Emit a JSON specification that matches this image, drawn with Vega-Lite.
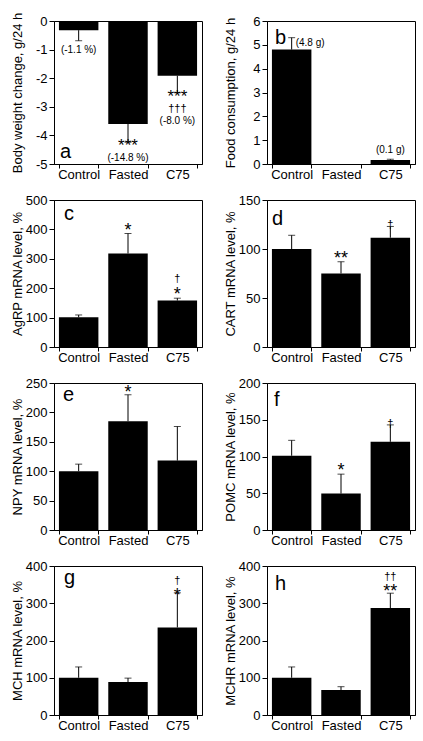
{
 "$schema": "https://vega.github.io/schema/vega-lite/v6.json",
 "padding": {"left": 10, "top": 11, "right": 5, "bottom": 5},
 "background": "white",
 "config": {
  "font": "Liberation Sans",
  "view": {"stroke": "black", "strokeWidth": 1},
  "axis": {"grid": false, "domainColor": "black", "domainWidth": 1, "tickColor": "black", "tickSize": 5, "labelColor": "black", "labelFontSize": 13, "labelPadding": 2, "labelOverlap": false, "labelFlush": false, "titleColor": "black", "titleFontSize": 13, "titleFontWeight": "normal"},
  "axisX": {"labelAngle": 0, "tickBand": "extent", "tickSize": 4, "labelPadding": 0},
  "axisY": {"minExtent": 28, "maxExtent": 28, "titlePadding": 2, "labelOverlap": false, "tickCount": 10},
  "bar": {"color": "black"},
  "rule": {"color": "black"},
  "tick": {"color": "black"},
  "text": {"color": "black"},
  "scale": {"bandPaddingInner": 0.2, "bandPaddingOuter": 0.1}
 },
 "datasets": {
  "a": [
   {"g": "Control", "v": -0.32, "e": -0.69, "st": "", "dg": "", "p": "(-1.1 %)"},
   {"g": "Fasted", "v": -3.6, "e": -4.24, "st": "***", "dg": "", "p": "(-14.8 %)"},
   {"g": "C75", "v": -1.91, "e": -2.51, "st": "***", "dg": "†††", "p": "(-8.0 %)"}
  ],
  "b": [
   {"g": "Control", "v": 4.8, "e": 5.3, "p": "(4.8 g)"},
   {"g": "Fasted", "v": 0, "e": null, "p": ""},
   {"g": "C75", "v": 0.17, "e": 0.2, "p": "(0.1 g)"}
  ],
  "c": [
   {"g": "Control", "v": 101, "e": 109, "st": "", "dg": ""},
   {"g": "Fasted", "v": 318, "e": 386, "st": "*", "dg": ""},
   {"g": "C75", "v": 158, "e": 166, "st": "*", "dg": "†"}
  ],
  "d": [
   {"g": "Control", "v": 100, "e": 114, "st": "", "dg": ""},
   {"g": "Fasted", "v": 75, "e": 87, "st": "**", "dg": ""},
   {"g": "C75", "v": 111.5, "e": 123, "st": "", "dg": "†"}
  ],
  "e": [
   {"g": "Control", "v": 100, "e": 112, "st": "", "dg": ""},
   {"g": "Fasted", "v": 185, "e": 230, "st": "*", "dg": ""},
   {"g": "C75", "v": 118, "e": 176, "st": "", "dg": ""}
  ],
  "f": [
   {"g": "Control", "v": 101, "e": 122, "st": "", "dg": ""},
   {"g": "Fasted", "v": 49.5, "e": 76, "st": "*", "dg": ""},
   {"g": "C75", "v": 120, "e": 143, "st": "", "dg": "†"}
  ],
  "g": [
   {"g": "Control", "v": 100, "e": 129, "st": "", "dg": ""},
   {"g": "Fasted", "v": 88.5, "e": 99, "st": "", "dg": ""},
   {"g": "C75", "v": 235, "e": 328, "st": "*", "dg": "†"}
  ],
  "h": [
   {"g": "Control", "v": 100, "e": 129, "st": "", "dg": ""},
   {"g": "Fasted", "v": 67, "e": 76, "st": "", "dg": ""},
   {"g": "C75", "v": 287, "e": 327, "st": "**", "dg": "††"}
  ]
 },
 "spacing": 11,
 "vconcat": [
  {
   "spacing": 20,
   "hconcat": [
    {
     "width": 148, "height": 143,
     "data": {"name": "a"},
     "encoding": {"x": {"field": "g", "type": "nominal", "title": null, "scale": {"domain": ["Control", "Fasted", "C75"]}}},
     "layer": [
      {"mark": "bar", "encoding": {"y": {"field": "v", "type": "quantitative", "scale": {"domain": [-5, 0]}, "axis": {"title": "Body weight change, g/24 h", "values": [0, -1, -2, -3, -4, -5], "tickCount": 10, "labelExpr": "'' + datum.value"}}}},
      {"mark": {"type": "rule"}, "encoding": {"y": {"field": "v", "type": "quantitative", "scale": {"domain": [-5, 0]}}, "y2": {"field": "e"}}},
      {"mark": {"type": "tick", "size": 7, "thickness": 1}, "encoding": {"y": {"field": "e", "type": "quantitative", "scale": {"domain": [-5, 0]}}}},
      {"transform": [{"filter": "datum.st != ''"}], "mark": {"type": "text", "fontSize": 17, "baseline": "alphabetic", "dy": 9}, "encoding": {"y": {"field": "e", "type": "quantitative", "scale": {"domain": [-5, 0]}}, "text": {"field": "st"}}},
      {"transform": [{"filter": "datum.dg != ''"}], "mark": {"type": "text", "fontSize": 11, "baseline": "alphabetic", "dy": 19}, "encoding": {"y": {"field": "e", "type": "quantitative", "scale": {"domain": [-5, 0]}}, "text": {"field": "dg"}}},
      {"transform": [{"filter": "datum.g == 'Control'"}], "mark": {"type": "text", "fontSize": 10, "baseline": "middle", "dy": 9}, "encoding": {"y": {"field": "e", "type": "quantitative", "scale": {"domain": [-5, 0]}}, "text": {"field": "p"}}},
      {"transform": [{"filter": "datum.g == 'Fasted'"}], "mark": {"type": "text", "fontSize": 10, "baseline": "middle", "dy": 16}, "encoding": {"y": {"field": "e", "type": "quantitative", "scale": {"domain": [-5, 0]}}, "text": {"field": "p"}}},
      {"transform": [{"filter": "datum.g == 'C75'"}], "mark": {"type": "text", "fontSize": 10, "baseline": "middle", "dy": 28}, "encoding": {"y": {"field": "e", "type": "quantitative", "scale": {"domain": [-5, 0]}}, "text": {"field": "p"}}},
      {"transform": [{"filter": "datum.g == 'Control'"}], "mark": {"type": "text", "fontSize": 20, "align": "left", "baseline": "alphabetic", "dx": 1, "dy": -6}, "encoding": {"x": {"field": "g", "type": "nominal", "bandPosition": 0, "scale": {"domain": ["Control", "Fasted", "C75"]}}, "y": {"datum": -5, "type": "quantitative", "scale": {"domain": [-5, 0]}}, "text": {"value": "a"}}}
     ]
    },
    {
     "width": 148, "height": 143,
     "data": {"name": "b"},
     "encoding": {"x": {"field": "g", "type": "nominal", "title": null, "scale": {"domain": ["Control", "Fasted", "C75"]}}},
     "layer": [
      {"mark": "bar", "encoding": {"y": {"field": "v", "type": "quantitative", "scale": {"domain": [0, 6]}, "axis": {"title": "Food consumption, g/24 h", "values": [0, 1, 2, 3, 4, 5, 6], "tickCount": 10, "labelExpr": "'' + datum.value"}}}},
      {"transform": [{"filter": "datum.e != null"}], "mark": {"type": "rule"}, "encoding": {"y": {"field": "v", "type": "quantitative", "scale": {"domain": [0, 6]}}, "y2": {"field": "e"}}},
      {"transform": [{"filter": "datum.e != null"}], "mark": {"type": "tick", "size": 7, "thickness": 1}, "encoding": {"y": {"field": "e", "type": "quantitative", "scale": {"domain": [0, 6]}}}},
      {"transform": [{"filter": "datum.g == 'Control'"}], "mark": {"type": "text", "fontSize": 10, "align": "left", "baseline": "middle", "dx": 4, "dy": 5}, "encoding": {"y": {"field": "e", "type": "quantitative", "scale": {"domain": [0, 6]}}, "text": {"field": "p"}}},
      {"transform": [{"filter": "datum.g == 'C75'"}], "mark": {"type": "text", "fontSize": 10, "baseline": "middle", "dy": -9}, "encoding": {"y": {"field": "e", "type": "quantitative", "scale": {"domain": [0, 6]}}, "text": {"field": "p"}}},
      {"transform": [{"filter": "datum.g == 'Control'"}], "mark": {"type": "text", "fontSize": 20, "align": "left", "baseline": "alphabetic", "dx": 3, "dy": 23}, "encoding": {"x": {"field": "g", "type": "nominal", "bandPosition": 0, "scale": {"domain": ["Control", "Fasted", "C75"]}}, "y": {"datum": 6, "type": "quantitative", "scale": {"domain": [0, 6]}}, "text": {"value": "b"}}}
     ]
    }
   ]
  },
  {
   "spacing": 20,
   "hconcat": [
    {
     "width": 148, "height": 147,
     "data": {"name": "c"},
     "encoding": {"x": {"field": "g", "type": "nominal", "title": null, "scale": {"domain": ["Control", "Fasted", "C75"]}}},
     "layer": [
      {"mark": "bar", "encoding": {"y": {"field": "v", "type": "quantitative", "scale": {"domain": [0, 500]}, "axis": {"title": "AgRP mRNA level, %", "values": [0, 100, 200, 300, 400, 500], "tickCount": 10, "labelExpr": "'' + datum.value"}}}},
      {"mark": {"type": "rule"}, "encoding": {"y": {"field": "v", "type": "quantitative", "scale": {"domain": [0, 500]}}, "y2": {"field": "e"}}},
      {"mark": {"type": "tick", "size": 7, "thickness": 1}, "encoding": {"y": {"field": "e", "type": "quantitative", "scale": {"domain": [0, 500]}}}},
      {"transform": [{"filter": "datum.st != ''"}], "mark": {"type": "text", "fontSize": 18, "baseline": "alphabetic", "dy": 2}, "encoding": {"y": {"field": "e", "type": "quantitative", "scale": {"domain": [0, 500]}}, "text": {"field": "st"}}},
      {"transform": [{"filter": "datum.dg != '' && datum.st != ''"}], "mark": {"type": "text", "fontSize": 11, "baseline": "alphabetic", "dy": -16}, "encoding": {"y": {"field": "e", "type": "quantitative", "scale": {"domain": [0, 500]}}, "text": {"field": "dg"}}},
      {"transform": [{"filter": "datum.g == 'Control'"}], "mark": {"type": "text", "fontSize": 20, "align": "left", "baseline": "alphabetic", "dx": 5, "dy": 20}, "encoding": {"x": {"field": "g", "type": "nominal", "bandPosition": 0, "scale": {"domain": ["Control", "Fasted", "C75"]}}, "y": {"datum": 500, "type": "quantitative", "scale": {"domain": [0, 500]}}, "text": {"value": "c"}}}
     ]
    },
    {
     "width": 148, "height": 147,
     "data": {"name": "d"},
     "encoding": {"x": {"field": "g", "type": "nominal", "title": null, "scale": {"domain": ["Control", "Fasted", "C75"]}}},
     "layer": [
      {"mark": "bar", "encoding": {"y": {"field": "v", "type": "quantitative", "scale": {"domain": [0, 150]}, "axis": {"title": "CART mRNA level, %", "values": [0, 50, 100, 150], "tickCount": 10, "labelExpr": "'' + datum.value"}}}},
      {"mark": {"type": "rule"}, "encoding": {"y": {"field": "v", "type": "quantitative", "scale": {"domain": [0, 150]}}, "y2": {"field": "e"}}},
      {"mark": {"type": "tick", "size": 7, "thickness": 1}, "encoding": {"y": {"field": "e", "type": "quantitative", "scale": {"domain": [0, 150]}}}},
      {"transform": [{"filter": "datum.st != ''"}], "mark": {"type": "text", "fontSize": 18, "baseline": "alphabetic", "dy": 2}, "encoding": {"y": {"field": "e", "type": "quantitative", "scale": {"domain": [0, 150]}}, "text": {"field": "st"}}},
      {"transform": [{"filter": "datum.dg != '' && datum.st == ''"}], "mark": {"type": "text", "fontSize": 11, "baseline": "alphabetic", "dy": 2}, "encoding": {"y": {"field": "e", "type": "quantitative", "scale": {"domain": [0, 150]}}, "text": {"field": "dg"}}},
      {"transform": [{"filter": "datum.g == 'Control'"}], "mark": {"type": "text", "fontSize": 20, "align": "left", "baseline": "alphabetic", "dx": 0, "dy": 25}, "encoding": {"x": {"field": "g", "type": "nominal", "bandPosition": 0, "scale": {"domain": ["Control", "Fasted", "C75"]}}, "y": {"datum": 150, "type": "quantitative", "scale": {"domain": [0, 150]}}, "text": {"value": "d"}}}
     ]
    }
   ]
  },
  {
   "spacing": 20,
   "hconcat": [
    {
     "width": 148, "height": 147,
     "data": {"name": "e"},
     "encoding": {"x": {"field": "g", "type": "nominal", "title": null, "scale": {"domain": ["Control", "Fasted", "C75"]}}},
     "layer": [
      {"mark": "bar", "encoding": {"y": {"field": "v", "type": "quantitative", "scale": {"domain": [0, 250]}, "axis": {"title": "NPY mRNA level, %", "values": [0, 50, 100, 150, 200, 250], "tickCount": 10, "labelExpr": "'' + datum.value"}}}},
      {"mark": {"type": "rule"}, "encoding": {"y": {"field": "v", "type": "quantitative", "scale": {"domain": [0, 250]}}, "y2": {"field": "e"}}},
      {"mark": {"type": "tick", "size": 7, "thickness": 1}, "encoding": {"y": {"field": "e", "type": "quantitative", "scale": {"domain": [0, 250]}}}},
      {"transform": [{"filter": "datum.st != ''"}], "mark": {"type": "text", "fontSize": 18, "baseline": "alphabetic", "dy": 3}, "encoding": {"y": {"field": "e", "type": "quantitative", "scale": {"domain": [0, 250]}}, "text": {"field": "st"}}},
      {"transform": [{"filter": "datum.g == 'Control'"}], "mark": {"type": "text", "fontSize": 20, "align": "left", "baseline": "alphabetic", "dx": 4, "dy": 18}, "encoding": {"x": {"field": "g", "type": "nominal", "bandPosition": 0, "scale": {"domain": ["Control", "Fasted", "C75"]}}, "y": {"datum": 250, "type": "quantitative", "scale": {"domain": [0, 250]}}, "text": {"value": "e"}}}
     ]
    },
    {
     "width": 148, "height": 147,
     "data": {"name": "f"},
     "encoding": {"x": {"field": "g", "type": "nominal", "title": null, "scale": {"domain": ["Control", "Fasted", "C75"]}}},
     "layer": [
      {"mark": "bar", "encoding": {"y": {"field": "v", "type": "quantitative", "scale": {"domain": [0, 200]}, "axis": {"title": "POMC mRNA level, %", "values": [0, 50, 100, 150, 200], "tickCount": 10, "labelExpr": "'' + datum.value"}}}},
      {"mark": {"type": "rule"}, "encoding": {"y": {"field": "v", "type": "quantitative", "scale": {"domain": [0, 200]}}, "y2": {"field": "e"}}},
      {"mark": {"type": "tick", "size": 7, "thickness": 1}, "encoding": {"y": {"field": "e", "type": "quantitative", "scale": {"domain": [0, 200]}}}},
      {"transform": [{"filter": "datum.st != ''"}], "mark": {"type": "text", "fontSize": 18, "baseline": "alphabetic", "dy": 2}, "encoding": {"y": {"field": "e", "type": "quantitative", "scale": {"domain": [0, 200]}}, "text": {"field": "st"}}},
      {"transform": [{"filter": "datum.dg != '' && datum.st == ''"}], "mark": {"type": "text", "fontSize": 11, "baseline": "alphabetic", "dy": 2}, "encoding": {"y": {"field": "e", "type": "quantitative", "scale": {"domain": [0, 200]}}, "text": {"field": "dg"}}},
      {"transform": [{"filter": "datum.g == 'Control'"}], "mark": {"type": "text", "fontSize": 20, "align": "left", "baseline": "alphabetic", "dx": 2, "dy": 23}, "encoding": {"x": {"field": "g", "type": "nominal", "bandPosition": 0, "scale": {"domain": ["Control", "Fasted", "C75"]}}, "y": {"datum": 200, "type": "quantitative", "scale": {"domain": [0, 200]}}, "text": {"value": "f"}}}
     ]
    }
   ]
  },
  {
   "spacing": 20,
   "hconcat": [
    {
     "width": 148, "height": 149,
     "data": {"name": "g"},
     "encoding": {"x": {"field": "g", "type": "nominal", "title": null, "scale": {"domain": ["Control", "Fasted", "C75"]}}},
     "layer": [
      {"mark": "bar", "encoding": {"y": {"field": "v", "type": "quantitative", "scale": {"domain": [0, 400]}, "axis": {"title": "MCH mRNA level, %", "values": [0, 100, 200, 300, 400], "tickCount": 10, "labelExpr": "'' + datum.value"}}}},
      {"mark": {"type": "rule"}, "encoding": {"y": {"field": "v", "type": "quantitative", "scale": {"domain": [0, 400]}}, "y2": {"field": "e"}}},
      {"mark": {"type": "tick", "size": 7, "thickness": 1}, "encoding": {"y": {"field": "e", "type": "quantitative", "scale": {"domain": [0, 400]}}}},
      {"transform": [{"filter": "datum.st != ''"}], "mark": {"type": "text", "fontSize": 18, "baseline": "alphabetic", "dy": 8}, "encoding": {"y": {"field": "e", "type": "quantitative", "scale": {"domain": [0, 400]}}, "text": {"field": "st"}}},
      {"transform": [{"filter": "datum.dg != '' && datum.st != ''"}], "mark": {"type": "text", "fontSize": 11, "baseline": "alphabetic", "dy": -9}, "encoding": {"y": {"field": "e", "type": "quantitative", "scale": {"domain": [0, 400]}}, "text": {"field": "dg"}}},
      {"transform": [{"filter": "datum.g == 'Control'"}], "mark": {"type": "text", "fontSize": 20, "align": "left", "baseline": "alphabetic", "dx": 5, "dy": 18}, "encoding": {"x": {"field": "g", "type": "nominal", "bandPosition": 0, "scale": {"domain": ["Control", "Fasted", "C75"]}}, "y": {"datum": 400, "type": "quantitative", "scale": {"domain": [0, 400]}}, "text": {"value": "g"}}}
     ]
    },
    {
     "width": 148, "height": 149,
     "data": {"name": "h"},
     "encoding": {"x": {"field": "g", "type": "nominal", "title": null, "scale": {"domain": ["Control", "Fasted", "C75"]}}},
     "layer": [
      {"mark": "bar", "encoding": {"y": {"field": "v", "type": "quantitative", "scale": {"domain": [0, 400]}, "axis": {"title": "MCHR mRNA level, %", "values": [0, 100, 200, 300, 400], "tickCount": 10, "labelExpr": "'' + datum.value"}}}},
      {"mark": {"type": "rule"}, "encoding": {"y": {"field": "v", "type": "quantitative", "scale": {"domain": [0, 400]}}, "y2": {"field": "e"}}},
      {"mark": {"type": "tick", "size": 7, "thickness": 1}, "encoding": {"y": {"field": "e", "type": "quantitative", "scale": {"domain": [0, 400]}}}},
      {"transform": [{"filter": "datum.st != ''"}], "mark": {"type": "text", "fontSize": 18, "baseline": "alphabetic", "dy": 4}, "encoding": {"y": {"field": "e", "type": "quantitative", "scale": {"domain": [0, 400]}}, "text": {"field": "st"}}},
      {"transform": [{"filter": "datum.dg != '' && datum.st != ''"}], "mark": {"type": "text", "fontSize": 11, "baseline": "alphabetic", "dy": -13}, "encoding": {"y": {"field": "e", "type": "quantitative", "scale": {"domain": [0, 400]}}, "text": {"field": "dg"}}},
      {"transform": [{"filter": "datum.g == 'Control'"}], "mark": {"type": "text", "fontSize": 20, "align": "left", "baseline": "alphabetic", "dx": 3, "dy": 24}, "encoding": {"x": {"field": "g", "type": "nominal", "bandPosition": 0, "scale": {"domain": ["Control", "Fasted", "C75"]}}, "y": {"datum": 400, "type": "quantitative", "scale": {"domain": [0, 400]}}, "text": {"value": "h"}}}
     ]
    }
   ]
  }
 ]
}
